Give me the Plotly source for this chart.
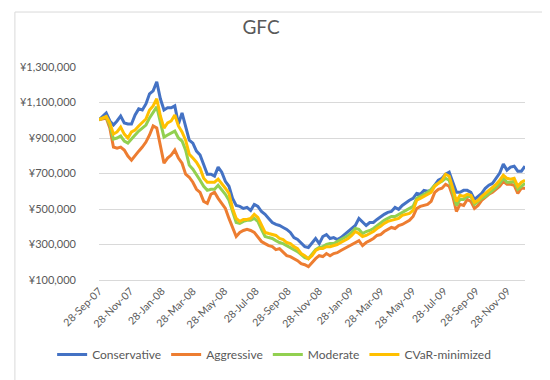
import pandas as pd
import plotly.graph_objects as go

# Weekly observations, 28-Sep-2007 onwards (values in thousand yen)
START_DATE = "2007-09-28"

conservative = [1003, 1024, 1041, 996, 973, 996, 1024, 985, 979, 979,
                 1030, 1064, 1058, 1092, 1149, 1166, 1217, 1121, 1058, 1070,
                 1070, 1081, 979, 1041, 968, 888, 871, 826, 804, 753,
                 696, 696, 685, 736, 707, 656, 628, 560, 520, 515,
                 503, 509, 492, 526, 515, 486, 470, 447, 424, 413,
                 407, 396, 385, 368, 339, 328, 305, 288, 283, 311,
                 334, 305, 345, 356, 334, 339, 328, 339, 356, 373,
                 385, 407, 447, 424, 407, 424, 424, 441, 458, 470,
                 481, 486, 509, 498, 520, 537, 549, 560, 588, 583,
                 605, 600, 605, 634, 662, 673, 696, 707, 651, 594,
                 594, 605, 605, 594, 554, 571, 588, 617, 634, 645,
                 673, 702, 753, 719, 736, 741, 713, 713, 741]

aggressive = [1003, 1007, 1013, 956, 849, 843, 849, 832, 798, 775,
              804, 826, 849, 877, 917, 968, 956, 854, 758, 787,
              804, 832, 787, 758, 696, 679, 651, 611, 594, 543,
              532, 583, 594, 560, 532, 503, 447, 390, 345, 368,
              379, 385, 379, 368, 345, 317, 305, 294, 288, 271,
              277, 254, 237, 232, 220, 209, 192, 186, 175, 198,
              220, 237, 232, 249, 237, 249, 254, 266, 277, 288,
              300, 311, 322, 294, 311, 322, 334, 351, 356, 373,
              385, 396, 390, 407, 413, 424, 436, 458, 503, 515,
              520, 526, 543, 594, 611, 617, 639, 628, 571, 486,
              526, 520, 554, 543, 503, 520, 549, 566, 583, 594,
              611, 628, 656, 639, 639, 634, 588, 617, 617]

moderate = [1003, 1010, 1019, 973, 894, 900, 911, 883, 871, 894,
            917, 939, 956, 973, 1013, 1047, 1075, 990, 905, 917,
            928, 939, 900, 883, 832, 747, 724, 696, 662, 628,
            605, 611, 611, 634, 611, 583, 549, 481, 424, 419,
            430, 436, 436, 447, 430, 385, 345, 339, 334, 322,
            311, 305, 294, 283, 271, 260, 243, 226, 220, 243,
            271, 283, 288, 300, 305, 305, 317, 328, 339, 351,
            368, 390, 385, 362, 373, 379, 390, 407, 419, 436,
            447, 458, 458, 470, 481, 492, 503, 515, 560, 571,
            583, 594, 611, 634, 645, 656, 673, 662, 594, 520,
            554, 554, 571, 571, 526, 543, 560, 571, 588, 600,
            622, 645, 673, 651, 651, 656, 611, 628, 645]

cvar_minimized = [1003, 1013, 1021, 985, 922, 934, 962, 922, 900, 934,
                  945, 968, 990, 1007, 1058, 1081, 1121, 1024, 956, 985,
                  996, 1030, 968, 934, 888, 809, 787, 764, 730, 673,
                  651, 651, 651, 668, 645, 617, 588, 503, 447, 430,
                  441, 441, 447, 470, 453, 413, 368, 362, 356, 351,
                  334, 328, 311, 305, 288, 277, 249, 237, 220, 237,
                  266, 277, 277, 288, 288, 294, 300, 311, 322, 334,
                  351, 373, 362, 345, 351, 362, 373, 390, 402, 419,
                  430, 436, 441, 447, 464, 470, 475, 492, 549, 560,
                  571, 583, 594, 628, 645, 662, 696, 685, 617, 543,
                  577, 571, 583, 577, 537, 549, 571, 588, 605, 617,
                  639, 662, 690, 673, 668, 673, 628, 651, 662]

series_names = ["Conservative", "Aggressive", "Moderate", "CVaR-minimized"]
series_colors = ["#4472C4", "#ED7D31", "#92D050", "#FFC000"]

tick_labels = ["28-Sep-07", "28-Nov-07", "28-Jan-08", "28-Mar-08", "28-May-08",
               "28-Jul-08", "28-Sep-08", "28-Nov-08", "28-Jan-09", "28-Mar-09",
               "28-May-09", "28-Jul-09", "28-Sep-09", "28-Nov-09"]

y_ticks = [100000, 300000, 500000, 700000, 900000, 1100000, 1300000]
y_tick_labels = ["¥100,000", "¥300,000", "¥500,000", "¥700,000",
                 "¥900,000", "¥1,100,000", "¥1,300,000"]

dates = pd.date_range(START_DATE, periods=len(conservative), freq="7D")
tick_dates = pd.to_datetime(tick_labels, format="%d-%b-%y")

series = [conservative, aggressive, moderate, cvar_minimized]

fig = go.Figure()
for name, color, vals in zip(series_names, series_colors, series):
    fig.add_trace(go.Scatter(
        x=dates, y=[v * 1000 for v in vals], name=name, mode="lines",
        line=dict(color=color, width=3),
    ))

TXT = "#595959"
FONT = "Lato"

fig.update_layout(
    width=550, height=380,
    margin=dict(l=89, r=33, t=59, b=108),
    paper_bgcolor="white", plot_bgcolor="white",
    font=dict(family=FONT, color=TXT, size=11),
    title=dict(text="GFC", x=0.46, xanchor="center", y=0.95, yanchor="middle",
               font=dict(family=FONT, size=19, color=TXT)),
    showlegend=True,
    legend=dict(orientation="h", x=-0.11, xanchor="left",
                y=-0.35, yanchor="middle",
                font=dict(family=FONT, size=12, color=TXT),
                traceorder="normal"),
    shapes=[dict(type="rect", xref="paper", yref="paper",
                 x0=-0.1974, x1=1.0643, y0=-0.486, y1=1.258,
                 line=dict(color="#d9d9d9", width=1), layer="below")],
)

fig.update_xaxes(
    type="date",
    range=[dates[0], dates[-1]],
    tickvals=tick_dates, ticktext=tick_labels, tickangle=-45,
    showgrid=False, showline=True, linecolor="#d9d9d9", linewidth=1,
    ticks="", zeroline=False,
    tickfont=dict(family=FONT, size=10.5, color=TXT),
)
fig.update_yaxes(
    range=[100000, 1300000], tickvals=y_ticks, ticktext=y_tick_labels,
    showgrid=True, gridcolor="#d9d9d9", gridwidth=1,
    zeroline=False, showline=False, ticks="",
    ticklabelstandoff=22,
    tickfont=dict(family=FONT, size=11, color=TXT),
)

fig.write_html("out.html")
